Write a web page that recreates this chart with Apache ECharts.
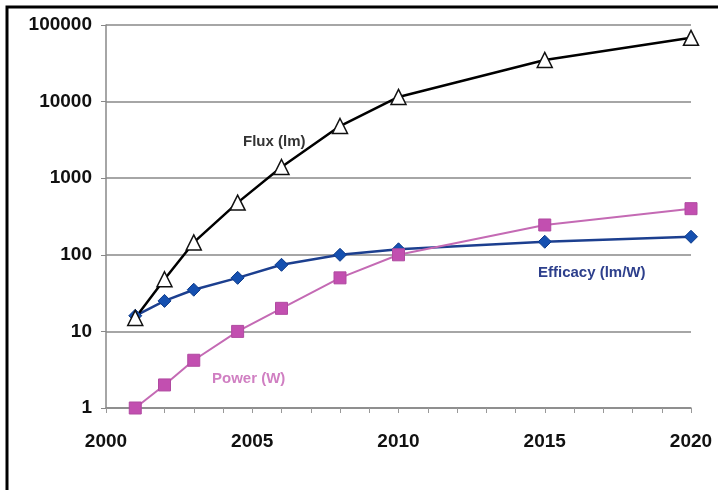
<!DOCTYPE html>
<html>
<head>
<meta charset="utf-8">
<script src="https://cdn.jsdelivr.net/npm/echarts@6/dist/echarts.min.js"></script>
<style>
html,body{margin:0;padding:0;background:#fff;}
#c{width:718px;height:490px;}
</style>
</head>
<body>
<div id="c"></div>
<script>
var years = [2001, 2002, 2003, 2004.5, 2006, 2008, 2010, 2015, 2020];
var flux = [15, 48, 145, 480, 1400, 4800, 11500, 35000, 68000];
var efficacy = [16, 25, 35, 50, 74, 100, 118, 148, 172];
var power = [1, 2, 4.2, 10, 20, 50, 100, 245, 400];
var yTicks = [1, 10, 100, 1000, 10000, 100000];
var xLabels = [2000, 2005, 2010, 2015, 2020];

function pairs(xs, ys){ return xs.map(function(x,i){ return [x, ys[i]]; }); }

var chart = echarts.init(document.getElementById('c'));
var font = 'Liberation Sans, Arial, sans-serif';
chart.setOption({
  animation: false,
  backgroundColor: '#fff',
  grid: {left: 106, right: 27, top: 25, bottom: 82, containLabel: false},
  xAxis: {
    type: 'value', min: 2000, max: 2020, interval: 1,
    axisLine: {show: true, lineStyle: {color: '#888', width: 1.5}},
    axisTick: {show: true, inside: false, length: 5, lineStyle: {color: '#999'}},
    splitLine: {show: false},
    axisLabel: {
      margin: 24, color: '#111', fontFamily: font, fontWeight: 'bold', fontSize: 19,
      formatter: function(v){ return xLabels.indexOf(v) >= 0 ? String(v) : ''; }
    }
  },
  yAxis: {
    type: 'log', logBase: 10, min: 1, max: 100000,
    axisLine: {show: true, lineStyle: {color: '#888', width: 1.5}},
    axisTick: {show: true, length: 5, lineStyle: {color: '#888'}},
    splitLine: {show: true, lineStyle: {color: '#888', width: 1.5}},
    axisLabel: {
      margin: 14, color: '#111', fontFamily: font, fontWeight: 'bold', fontSize: 19,
      formatter: function(v){ return yTicks.indexOf(v) >= 0 ? String(v) : ''; }
    }
  },
  series: [
    {
      name: 'Efficacy (lm/W)', type: 'line', data: pairs(years, efficacy),
      symbol: 'diamond', symbolSize: 13,
      lineStyle: {color: '#1C3F8F', width: 2.5},
      itemStyle: {color: '#1550B0', borderColor: '#0D3A8A', borderWidth: 1}
    },
    {
      name: 'Power (W)', type: 'line', data: pairs(years, power),
      symbol: 'rect', symbolSize: 12,
      lineStyle: {color: '#C46AB4', width: 2},
      itemStyle: {color: '#C24FB0', borderColor: '#B04AA0', borderWidth: 1}
    },
    {
      name: 'Flux (lm)', type: 'line', data: pairs(years, flux),
      symbol: 'triangle', symbolSize: 15,
      lineStyle: {color: '#000', width: 2.5},
      itemStyle: {color: '#fff', borderColor: '#111', borderWidth: 1.5}
    }
  ],
  graphic: [
    {type: 'text', left: 243, top: 134, style: {text: 'Flux (lm)', fill: '#333', font: 'bold 15px ' + font}},
    {type: 'text', left: 538, top: 265, style: {text: 'Efficacy (lm/W)', fill: '#2D3F8C', font: 'bold 15px ' + font}},
    {type: 'text', left: 212, top: 371, style: {text: 'Power (W)', fill: '#D07FC2', font: 'bold 15px ' + font}},
    {type: 'rect', shape: {x: 7, y: 7, width: 730, height: 500}, style: {fill: null, stroke: '#000', lineWidth: 3}, silent: true}
  ]
});
</script>
</body>
</html>
